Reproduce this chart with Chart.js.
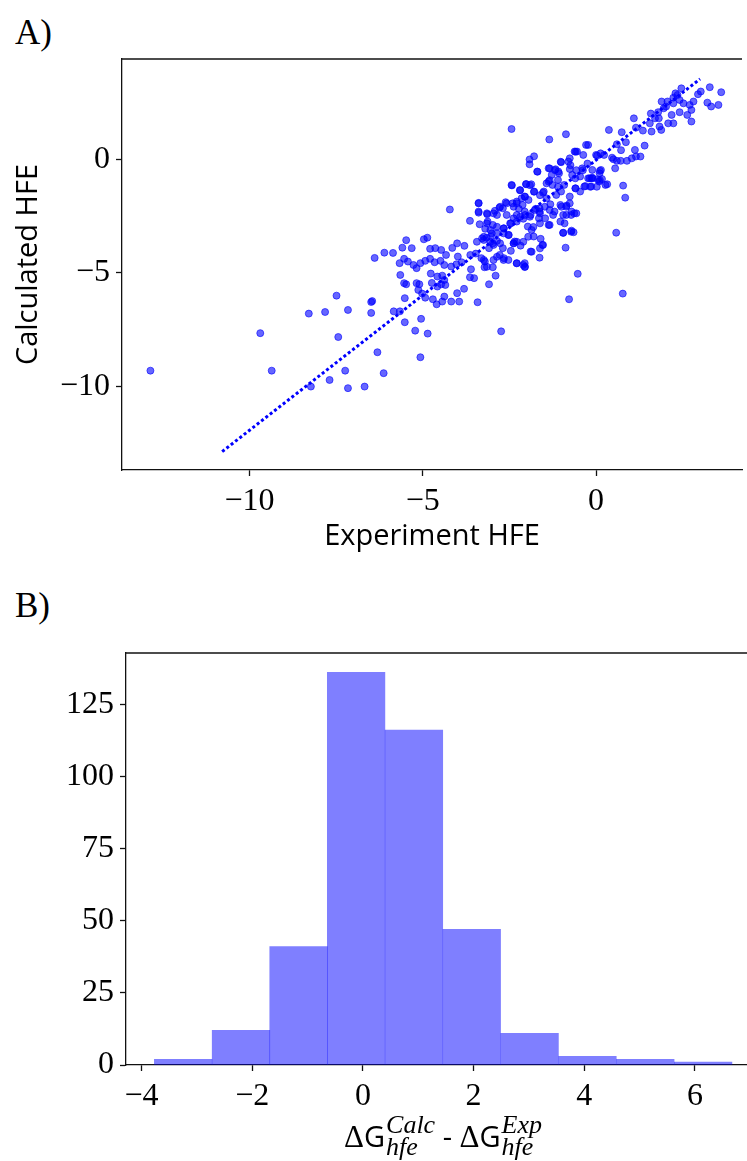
<!DOCTYPE html>
<html>
<head>
<meta charset="utf-8">
<script src="https://cdn.jsdelivr.net/npm/chart.js@4.4.0/dist/chart.umd.min.js"></script>
<style>
  html, body { margin: 0; padding: 0; background: #fff; overflow: hidden; }
  body { width: 747px; height: 1161px; position: relative; }
  .panel { position: absolute; font-family: "Liberation Serif", serif; font-size: 35px; line-height: 1; color: #000; }
  #boxA { position: absolute; left: 0; top: 0; width: 747px; height: 560px; }
  #boxB { position: absolute; left: 0; top: 570px; width: 747px; height: 591px; }
</style>
</head>
<body>
<div class="panel" style="left:15px; top:15px;">A)</div>
<div class="panel" style="left:15px; top:588px;">B)</div>
<div id="boxA"><canvas id="scatter" width="747" height="560" style="width:747px;height:560px"></canvas></div>
<div id="boxB"><canvas id="hist" width="747" height="591" style="width:747px;height:591px"></canvas></div>
<script>
// panel A: experiment vs calculated HFE
const expHFE = [
  -12.86,-9.69,-9.36,-8.29,-7.82,-7.49,-7.16,-7.44,-8.23,-7.69,-7.24,-7.16,-6.68,-6.31,-6.13,-6.49,-6.46,-6.49,-5.84,-5.66,
  -5.52,-5.22,-4.86,-5.07,-5.05,-5.52,-2.74,-0.53,-0.78,0.77,0.58,0.84,0.78,-2.44,
  -6.39,-6.11,-5.86,-5.59,-5.48,-5.32,-4.97,-4.87,-4.79,-4.64,-4.47,-4.33,-4.15,-4.01,-3.99,-3.80,
  -5.67,-5.54,-5.43,-5.27,-5.18,-5.07,-4.93,-4.79,-4.66,-4.49,-4.38,-4.18,-4.03,-3.88,
  -5.65,-5.54,-5.48,-5.18,-5.10,-5.13,-5.02,-4.93,-4.77,-4.58,-4.44,-4.38,-4.47,-4.35,-4.58,-4.74,-4.71,-4.60,-4.44,-4.38,-4.18,-3.95,-4.01,-3.81,
  -3.61,-3.64,-3.52,-3.42,-3.09,-2.90,-3.22,-2.98,-3.63,-3.47,-3.31,-3.21,-3.09,-2.98,-3.29,-3.16,-2.86,-2.69,-2.78,-2.66,-2.46,-2.29,-2.06,-2.06,-1.89,-1.63,-2.38,-2.18,
  -4.22,-3.64,-3.39,-3.39,-3.36,-3.14,-3.13,-3.20,-2.98,-2.92,-2.79,-2.61,-2.58,-2.41,-2.29,-2.20,-2.44,-2.02,-1.87,-2.06,-1.95,-1.79,-1.63,-1.51,-1.43,-1.32,-1.20,-1.03,-0.85,-0.76,
  -0.60,-0.46,-0.63,-0.71,-0.86,-1.03,-1.37,-1.47,-1.65,-1.81,-1.97,-2.10,-2.29,-2.46,-2.66,-2.52,-2.35,-2.86,-3.04,-1.80,-1.60,-1.55,-0.95,-0.71,-0.65,-0.88,-1.63,-1.74,-1.89,-2.06,-2.23,-2.29,-2.12,
  -1.92,-1.92,-1.79,-1.70,-1.35,-0.87,-1.37,-1.17,-1.28,-1.09,-1.37,-1.26,-1.10,-1.01,-0.80,-0.76,-0.69,-0.92,-1.01,-1.15,
  -0.62,-0.55,-0.29,-0.23,-0.37,-0.25,-0.40,-0.11,0.11,0.00,0.13,0.32,0.09,-0.14,-0.23,-0.34,-0.14,-0.60,-0.46,0.46,
  0.55,0.71,0.89,1.03,1.15,1.28,1.12,1.40,0.72,0.86,0.74,0.60,0.37,1.09,1.15,1.35,1.55,1.60,1.83,1.81,
  1.70,1.88,2.08,2.23,1.58,1.79,1.95,2.06,2.23,2.29,2.41,2.46,2.52,2.41,2.63,2.75,2.70,2.75,2.81,2.94,
  3.02,3.28,3.21,3.32,3.53,3.61,2.18,2.02,1.89,2.23,2.35,0.05,0.17,-0.11,0.27,0.14,0.03,0.23,0.50,0.60,
  -1.53,-1.62,-1.79,-2.02,-1.91,-2.19,-2.43,-2.05,-2.15,-2.29,-2.38,-2.58,-2.69,-2.77,-2.86,-2.96,-3.15,-3.39,-3.39,-3.15,
  -3.05,-3.24,-3.01,-2.86,-2.67,-2.48,-2.38,-2.19,-2.05,-1.91,-1.77,-1.62,-1.48,-1.34,-1.24,-1.00,-0.86,-0.76,-0.72,-0.57,
  -0.95,-0.91,-0.95,-0.72,-1.34,-1.62,-1.86,-1.96,-2.10,-2.29,-2.38,-2.53,-2.67,-2.77,-2.96,-3.05,-3.24,-3.44,-1.86,-1.62,
  -1.53,-3.24,-3.15,-2.96,-2.86,-2.67,-2.53,-2.29,-2.10,-2.05,
  -1.69,-1.34,-1.19,-1.07,-1.02,-0.76,-0.59,-0.74,-0.57,-0.38,-0.19,-0.10,0.10,0.11,0.02,-0.17,-0.31,-0.59,-1.10,-1.34,-1.43
];
const calcHFE = [
  -9.30,-7.65,-9.30,-6.79,-6.72,-6.00,-6.63,-7.82,-10.00,-9.71,-9.30,-10.07,-10.00,-8.49,-9.41,-6.28,-6.24,-6.76,-6.69,-6.69,
  -7.17,-7.54,-7.67,-8.71,-7.02,-6.11,-7.57,-5.04,-6.16,-5.91,-3.23,-1.69,-1.16,1.33,
  -4.34,-4.11,-4.12,-3.89,-3.56,-3.91,-3.52,-3.45,-3.94,-3.91,-3.99,-4.21,-3.90,-3.70,-4.28,-3.81,
  -4.57,-4.38,-4.50,-4.65,-4.79,-4.57,-4.47,-4.38,-4.53,-4.47,-4.65,-4.72,-4.62,-4.53,
  -5.09,-5.45,-5.50,-5.45,-5.50,-5.75,-5.91,-6.09,-5.03,-5.16,-5.12,-5.31,-5.50,-5.53,-5.60,-5.44,-6.16,-6.38,-6.26,-6.04,-6.26,-6.26,-5.89,-5.70,
  -4.84,-5.19,-5.23,-6.29,-5.50,-5.12,-4.75,-4.75,-4.21,-4.15,-4.35,-4.50,-3.91,-3.70,-3.48,-3.45,-3.59,-3.91,-4.21,-4.35,-4.03,-4.57,-4.57,-4.74,-4.06,-4.33,-3.70,-3.80,
  -2.21,-2.71,-1.92,-2.30,-2.86,-2.42,-2.74,-3.06,-2.89,-2.27,-2.13,-1.89,-2.45,-1.94,-1.86,-1.36,-1.13,-1.10,-1.10,-1.64,-1.79,-1.42,-2.16,-1.42,-1.72,-1.98,-2.30,-2.01,-2.04,-1.64,
  -1.28,-1.42,-2.38,-2.30,-2.45,-2.74,-2.89,-2.60,-2.60,-2.98,-2.96,-2.62,-2.74,-2.82,-3.04,-3.33,-3.62,-3.26,-3.40,-3.40,-3.50,-3.77,-3.24,-3.14,-3.21,-3.89,-2.30,-2.18,-2.45,-2.30,-2.18,-2.45,-2.01,
  -0.01,-0.22,0.13,-0.54,0.87,1.10,-0.40,-0.44,-0.69,-0.54,-0.98,-1.13,-0.91,-0.13,-0.10,-0.43,-0.69,-1.13,-1.42,-1.57,
  0.34,0.34,0.63,0.63,0.19,-0.19,-0.40,-0.47,-0.51,0.19,0.26,-1.10,-0.98,-0.84,-0.84,-1.20,-1.20,-0.84,-0.76,0.07,
  -0.40,-0.07,-0.07,0.04,0.12,0.12,0.41,0.60,0.40,0.75,1.19,0.66,1.29,1.80,1.39,1.26,1.58,1.22,1.44,1.80,
  1.80,1.29,1.58,1.58,2.01,2.07,2.24,2.54,2.71,2.90,2.61,3.12,2.46,2.07,1.95,1.66,2.39,2.17,2.54,2.86,
  2.98,3.17,2.49,2.32,2.39,2.95,1.95,2.32,2.54,2.46,2.83,-0.89,-0.87,-0.81,-1.13,-0.47,0.16,0.19,0.00,-0.07,
  -1.47,-1.58,-1.43,-1.09,-1.14,-1.36,-1.15,-1.65,-1.72,-1.94,-2.09,-1.94,-2.16,-2.09,-2.45,-2.38,-2.38,-1.94,-2.35,-2.82,
  -3.11,-3.41,-3.26,-2.97,-3.04,-2.82,-2.60,-2.53,-2.45,-2.53,-2.23,-2.38,-2.09,-2.23,-2.45,-2.09,-2.09,-1.94,-2.45,-2.38,
  -2.45,-2.82,-3.23,-3.19,-2.89,-2.82,-3.11,-3.41,-3.63,-3.63,-3.70,-3.33,-3.26,-3.70,-3.77,-3.63,-3.55,-3.63,-4.07,-3.92,
  -3.77,-4.43,-4.73,-4.43,-4.29,-4.43,-4.43,-4.58,-4.65,-4.73,
  -0.55,-0.40,-0.48,-0.62,-0.11,0.04,0.33,-0.26,-0.48,-0.48,-0.84,-0.84,-0.62,-0.92,-1.21,-1.21,-1.18,-1.28,-1.21,-0.92,-1.06
];
const fitLineX = [-10.79, 3.0];
const fitLineY = [-12.86, 3.53];
const scatterXTicks = [-10, -5, 0];
const scatterYTicks = [-10, -5, 0];

// panel B: histogram of calc - exp
const binEdges = [-3.77, -2.725, -1.68, -0.645, 0.40, 1.445, 2.49, 3.535, 4.58, 5.625, 6.67];
const binCounts = [2, 12, 41, 136, 116, 47, 11, 3, 2, 1];
const histXTicks = [-4, -2, 0, 2, 4, 6];
const histYTicks = [0, 25, 50, 75, 100, 125];

const tickFont = { family: 'Liberation Serif', size: 32 };
const titleFont = { family: 'Open Sans', size: 29 };
const fmt = v => v < 0 ? '\u2212' + Math.abs(v) : String(v);

function fixedTicks(values) {
  return scale => { scale.ticks = values.map(v => ({ value: v })); };
}

function axis(extra) {
  return Object.assign({
    type: 'linear',
    ticks: { font: tickFont, color: '#000', padding: 6, callback: fmt, autoSkip: false, maxRotation: 0 },
    grid: { drawOnChartArea: false, tickLength: 6, tickColor: '#111', tickWidth: 1.3, offset: false },
    border: { color: '#111', width: 1.3 }
  }, extra);
}

// top line of the frame (right side is cut off in the figure)
const frameTop = {
  id: 'frameTop',
  afterDraw(chart) {
    const { ctx, chartArea } = chart;
    ctx.save();
    ctx.strokeStyle = '#111';
    ctx.lineWidth = 1.3;
    ctx.beginPath();
    ctx.moveTo(chartArea.left - 0.65, chartArea.top);
    ctx.lineTo(chartArea.right, chartArea.top);
    ctx.stroke();
    ctx.restore();
  }
};

new Chart(document.getElementById('scatter'), {
  type: 'scatter',
  data: {
    datasets: [{
      data: expHFE.map((x, i) => ({ x: x, y: calcHFE[i] })),
      backgroundColor: 'rgba(0,0,255,0.6)',
      borderColor: 'rgba(0,0,255,0.6)',
      borderWidth: 1,
      pointRadius: 3.5,
      order: 1
    }, {
      type: 'line',
      data: fitLineX.map((x, i) => ({ x: x, y: fitLineY[i] })),
      borderColor: '#0000ff',
      borderWidth: 3,
      borderDash: [3, 2.5],
      pointRadius: 0,
      fill: false,
      order: 0
    }]
  },
  options: {
    responsive: false,
    animation: false,
    layout: { padding: { top: 59, left: 0, right: 0, bottom: 0 } },
    plugins: { legend: { display: false }, tooltip: { enabled: false } },
    scales: {
      x: axis({
        min: -13.68, max: 4.21,
        afterBuildTicks: fixedTicks(scatterXTicks),
        afterFit: s => { s.height = 90; },
        title: { display: true, text: 'Experiment HFE', font: titleFont, color: '#000', padding: { top: 0, bottom: 6 } }
      }),
      y: axis({
        min: -13.67, max: 4.41,
        afterBuildTicks: fixedTicks(scatterYTicks),
        afterFit: s => { s.width = 122; },
        title: { display: true, text: 'Calculated HFE', font: titleFont, color: '#000', padding: { top: 11, bottom: 0 } }
      })
    }
  },
  plugins: [frameTop]
});

// x label with sub/superscripts
const histLabel = [['Calc', 'hfe'], ['Exp', 'hfe']];
const histTitle = {
  id: 'histTitle',
  afterDraw(chart) {
    const ctx = chart.ctx;
    const baseY = 577;
    const run = (x0, draw) => {
      let x = x0;
      histLabel.forEach((t, i) => {
        if (i > 0) {
          ctx.font = '29px "Open Sans"';
          if (draw) ctx.fillText(' - ', x, baseY);
          x += ctx.measureText(' - ').width;
        }
        ctx.font = '31px "Liberation Serif"';
        if (draw) ctx.fillText('\u0394', x, baseY);
        x += ctx.measureText('\u0394').width;
        ctx.font = '29px "Open Sans"';
        if (draw) ctx.fillText('G', x, baseY);
        x += ctx.measureText('G').width + 1;
        ctx.font = 'italic 26px "Liberation Serif"';
        if (draw) {
          ctx.fillText(t[0], x, baseY - 14);
          ctx.fillText(t[1], x, baseY + 8);
        }
        x += Math.max(ctx.measureText(t[0]).width, ctx.measureText(t[1]).width);
      });
      return x - x0;
    };
    ctx.save();
    ctx.fillStyle = '#000';
    ctx.textBaseline = 'alphabetic';
    ctx.textAlign = 'left';
    const w = run(0, false);
    run(443 - w / 2, true);
    ctx.restore();
  }
};

const binCenters = binCounts.map((c, i) => (binEdges[i] + binEdges[i + 1]) / 2);

new Chart(document.getElementById('hist'), {
  type: 'bar',
  data: {
    datasets: [{
      data: binCenters.map((x, i) => ({ x: x, y: binCounts[i] })),
      backgroundColor: 'rgba(0,0,255,0.5)',
      borderWidth: 0,
      barPercentage: 1,
      categoryPercentage: 1
    }]
  },
  options: {
    responsive: false,
    animation: false,
    layout: { padding: { top: 83, left: 0, right: 0, bottom: 0 } },
    plugins: { legend: { display: false }, tooltip: { enabled: false } },
    scales: {
      x: axis({
        min: -4.28, max: 6.94, offset: false,
        afterBuildTicks: fixedTicks(histXTicks),
        afterFit: s => { s.height = 96; }
      }),
      y: axis({
        min: 0, max: 142.7,
        afterBuildTicks: fixedTicks(histYTicks),
        afterFit: s => { s.width = 126; }
      })
    }
  },
  plugins: [frameTop, histTitle]
});
</script>
</body>
</html>
